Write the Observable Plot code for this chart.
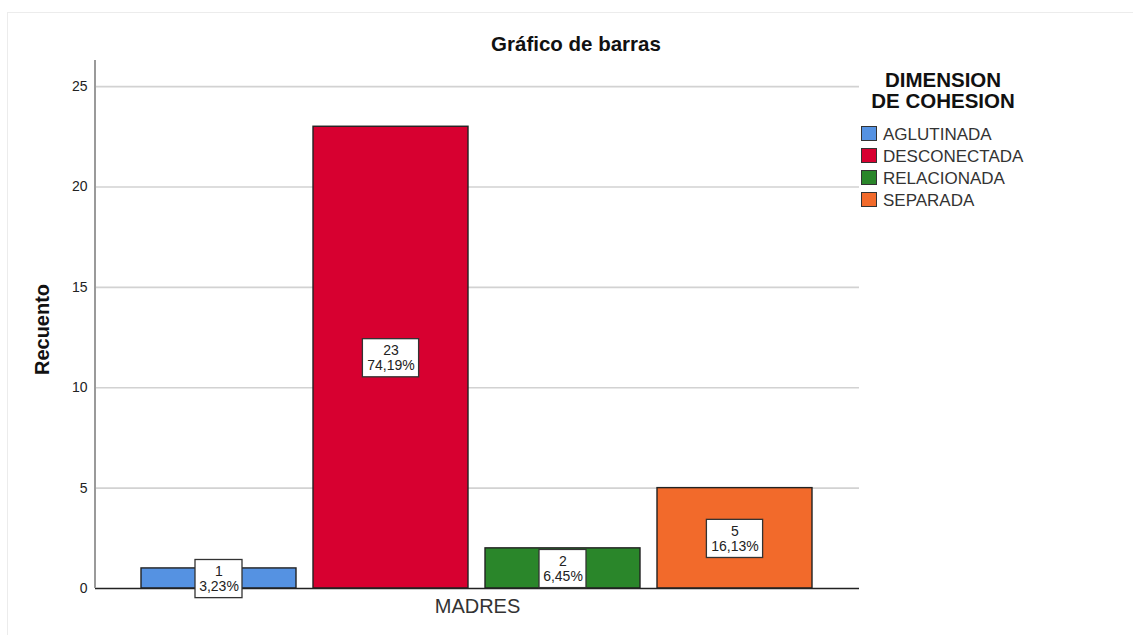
<!DOCTYPE html>
<html>
<head>
<meta charset="utf-8">
<script src="https://cdn.jsdelivr.net/npm/d3@7"></script>
<script src="https://cdn.jsdelivr.net/npm/@observablehq/plot@0.6"></script>
<style>
  html, body { margin: 0; padding: 0; background: #fff; }
  body { width: 1133px; height: 635px; position: relative; overflow: hidden;
         font-family: "Liberation Sans", Arial, sans-serif; }
  #frame { position: absolute; left: 7px; top: 12px; width: 1140px; height: 640px;
           border: 1px solid #ececec; box-sizing: border-box; }
  #chart { position: absolute; left: 0; top: 0; }
  #title { position: absolute; left: 476px; width: 200px; top: 33.6px; text-align: center;
           font-weight: bold; font-size: 20.5px; line-height: 1; color: #111; }
  #legend-title { position: absolute; left: 843px; width: 200px; top: 69.4px; text-align: center;
           font-weight: bold; font-size: 20.5px; line-height: 21px; color: #111; }
  .item { position: absolute; left: 861px; height: 22px; font-size: 17px; line-height: 22px; color: #333; white-space: nowrap; }
  .sw { position: absolute; left: 0; top: 2px; width: 16px; height: 15px; border: 1.5px solid #333; box-sizing: border-box; }
  .lab { position: absolute; left: 22px; top: 0; }
</style>
</head>
<body>
<div id="frame"></div>
<div id="chart"></div>
<div id="title">Gráfico de barras</div>
<div id="legend-title">DIMENSION<br>DE COHESION</div>
<div id="legend"></div>
<script>
// ---- data ----
const categories = ["AGLUTINADA", "DESCONECTADA", "RELACIONADA", "SEPARADA"];
const counts = [1, 23, 2, 5];
const percents = ["3,23%", "74,19%", "6,45%", "16,13%"];
const colors = ["#5592e2", "#d70030", "#2a862a", "#f26a2b"];
const yTicks = [0, 5, 10, 15, 20, 25];
const yAxisLabel = "Recuento";
const xAxisLabel = "MADRES";

const data = categories.map((c, i) => ({cat: c, value: counts[i], pct: percents[i]}));

const font = "Liberation Sans, Arial, sans-serif";

const boxMarks = data.map(d => {
  const w = d.pct.length * 9.2 + 1;
  const ins = (155 - w) / 2;
  return Plot.rect([d], {
    x: "cat",
    y1: v => v.value / 2 - 0.98,
    y2: v => v.value / 2 + 0.92,
    fill: "white", stroke: "#333", strokeWidth: 1.3,
    insetLeft: ins, insetRight: ins
  });
});

const chart = Plot.plot({
  width: 1133,
  height: 635,
  marginTop: 60,
  marginBottom: 47,
  marginLeft: 95,
  marginRight: 274,
  style: {fontFamily: font, background: "transparent"},
  x: {domain: categories, paddingInner: 0.0988, paddingOuter: 0.2676, axis: null},
  y: {domain: [0, 26.3], axis: null},
  color: {domain: categories, range: colors},
  marks: [
    Plot.gridY(yTicks.filter(t => t > 0), {stroke: "#d2d2d2", strokeOpacity: 1, strokeWidth: 1.6}),
    Plot.axisY(yTicks, {tickSize: 0, tickPadding: 8, fontSize: 14, fill: "#222", label: null}),
    Plot.barY(data, {x: "cat", y: "value", fill: "cat", stroke: "#222", strokeWidth: 1.4}),
    Plot.ruleY([0], {stroke: "#222", strokeWidth: 1.4}),
    ...boxMarks,
    Plot.text(data, {x: "cat", y: d => d.value / 2, text: d => `${d.value}\n${d.pct}`,
      fontSize: 14, lineHeight: 1.07, fill: "#222", dy: 0}),
    Plot.text([yAxisLabel], {frameAnchor: "left", textAnchor: "middle", dx: -53, dy: 5, rotate: -90,
      fontSize: 20, fontWeight: "bold", fill: "#111"}),
    Plot.text([xAxisLabel], {frameAnchor: "bottom", dy: 24,
      fontSize: 20, fill: "#333"})
  ]
});
document.getElementById("chart").appendChild(chart);

// vertical y-axis line
const ys = chart.scale("y");
d3.select(chart).append("line")
  .attr("x1", 95).attr("x2", 95)
  .attr("y1", ys.apply(26.3)).attr("y2", ys.apply(0))
  .attr("stroke", "#9a9a9a").attr("stroke-width", 2);

// legend
const legend = document.getElementById("legend");
categories.forEach((c, i) => {
  const row = document.createElement("div");
  row.className = "item";
  row.style.top = (124 + i * 22) + "px";
  row.innerHTML = `<div class="sw" style="background:${colors[i]}"></div><span class="lab">${c}</span>`;
  legend.appendChild(row);
});
</script>
</body>
</html>
